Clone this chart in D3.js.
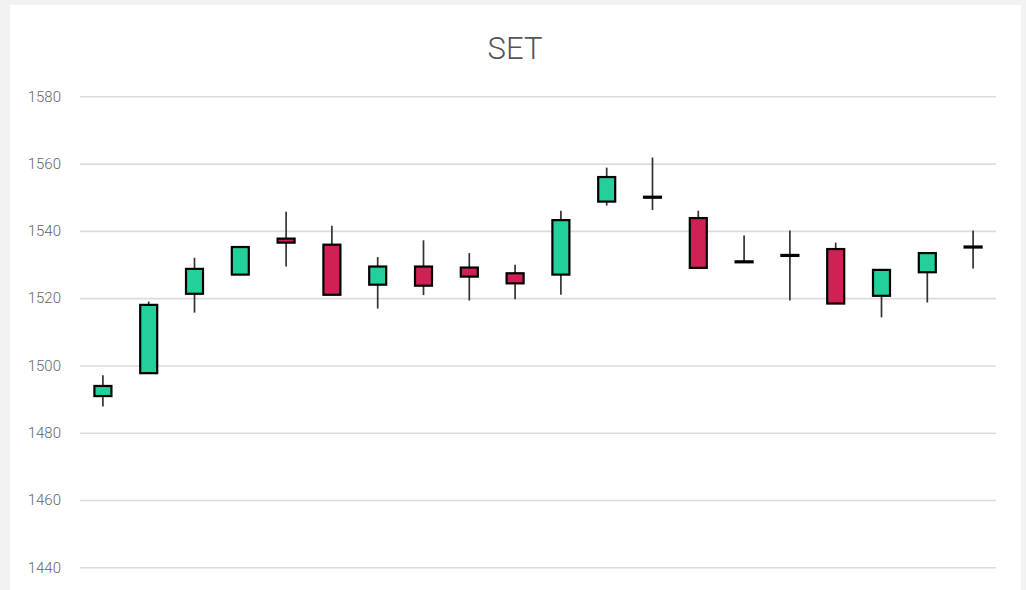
<!DOCTYPE html>
<html>
<head>
<meta charset="utf-8">
<script src="https://cdn.jsdelivr.net/npm/d3@7"></script>
<style>
  html, body { margin: 0; padding: 0; background: #f2f2f2; }
  svg { display: block; }
</style>
</head>
<body>
<svg id="chart" width="1026" height="590"></svg>
<script>
const title = "SET";
const days = d3.range(1, 21).map(String);
const opens  = [1490.9, 1497.7, 1521.3, 1527.0, 1537.7, 1535.9, 1524.0, 1529.4, 1529.1, 1527.4, 1527.0, 1548.7, 1550.0, 1543.8, 1530.8, 1532.7, 1534.6, 1520.7, 1527.7, 1535.2];
const closes = [1493.9, 1518.0, 1528.7, 1535.2, 1536.5, 1521.0, 1529.4, 1523.7, 1526.4, 1524.4, 1543.2, 1556.0, 1549.9, 1529.0, 1530.7, 1532.6, 1518.4, 1528.4, 1533.4, 1535.1];
const highs  = [1497.1, 1519.0, 1532.0, 1535.5, 1545.7, 1541.5, 1532.2, 1537.2, 1533.4, 1529.9, 1546.0, 1558.8, 1561.8, 1546.0, 1538.6, 1540.1, 1536.5, 1528.4, 1533.4, 1540.1];
const lows   = [1487.8, 1497.5, 1515.7, 1526.8, 1529.4, 1521.0, 1516.9, 1520.9, 1519.3, 1519.7, 1521.0, 1547.5, 1546.2, 1529.0, 1530.7, 1519.3, 1518.4, 1514.3, 1518.7, 1528.8];
const yTicks = [1440, 1460, 1480, 1500, 1520, 1540, 1560, 1580];

const data = days.map((d, i) => ({ d, o: opens[i], c: closes[i], h: highs[i], l: lows[i] }));

const svg = d3.select("#chart");
svg.append("rect").attr("x", 10).attr("y", 5).attr("width", 1011).attr("height", 600).attr("fill", "#ffffff");

svg.append("text")
  .attr("x", 515).attr("y", 59)
  .attr("text-anchor", "middle")
  .attr("font-family", "Roboto, sans-serif")
  .attr("font-weight", 300)
  .attr("font-size", 31)
  .attr("fill", "#555")
  .text(title);

const left = 80, right = 996;
const x = d3.scaleBand().domain(days).range([left, right]).padding(0);
const y = d3.scaleLinear().domain([1440, 1580]).range([567.3, 96.3]);

const axis = svg.append("g").attr("transform", `translate(${left},0)`)
  .call(d3.axisLeft(y).tickValues(yTicks).tickSize(-(right - left)).tickPadding(19).tickFormat(d3.format("d")));
axis.select(".domain").remove();
axis.selectAll(".tick line").attr("stroke", "#dcdcdc").attr("stroke-width", 1.6);
axis.selectAll(".tick text").attr("font-family", "Roboto, sans-serif").attr("font-weight", 300).attr("font-size", 15).attr("fill", "#666");

const green = "#23cf9a", red = "#cf2154";
const bw = 17;
const g = svg.append("g");
const cand = g.selectAll("g.c").data(data).join("g").attr("class", "c")
  .attr("transform", d => `translate(${x(d.d) + x.bandwidth() / 2},0)`);

cand.append("line")
  .attr("x1", 0).attr("x2", 0)
  .attr("y1", d => y(d.h)).attr("y2", d => y(d.l))
  .attr("stroke", "#333").attr("stroke-width", 1.7);

cand.append("rect")
  .attr("x", -bw / 2)
  .attr("y", d => Math.min(y(d.o), y(d.c)) - (Math.abs(y(d.o) - y(d.c)) < 1 ? 0.5 : 0))
  .attr("width", bw)
  .attr("height", d => Math.max(1, Math.abs(y(d.o) - y(d.c))))
  .attr("fill", d => d.c >= d.o ? green : red)
  .attr("stroke", "#000")
  .attr("stroke-width", 2.2);
</script>
</body>
</html>
